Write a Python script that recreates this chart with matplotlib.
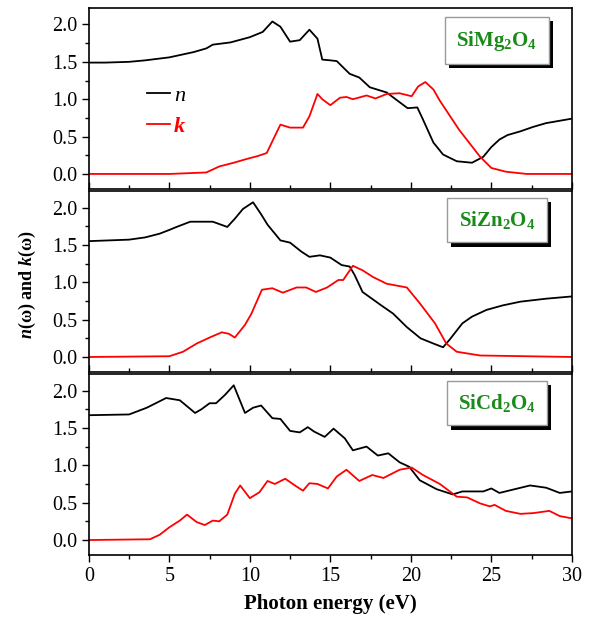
import numpy as np
import matplotlib.pyplot as plt
from matplotlib.ticker import MultipleLocator
import matplotlib.patheffects as pe

plt.rcParams['font.family'] = ['Liberation Serif', 'DejaVu Serif']
plt.rcParams['mathtext.fontset'] = 'custom'
plt.rcParams['mathtext.rm'] = 'Liberation Serif:bold'
plt.rcParams['mathtext.it'] = 'Liberation Serif:italic:bold'
plt.rcParams['mathtext.bf'] = 'Liberation Serif:bold'

# ---- SiMg2O4 ----
e_mg_n = [0, 1.0, 2.5, 3.5, 5.0, 6.5, 7.3, 7.7, 8.8, 10.0, 10.8, 11.1, 11.4, 11.9, 12.5, 13.1,
          13.7, 14.2, 14.5, 15.0, 15.4, 16.2, 16.8, 17.45, 18.5, 19.3, 19.8, 20.4, 20.75,
          21.4, 22.0, 22.85, 23.8, 24.5, 25.0, 25.5, 26.0, 26.8, 27.6, 28.4, 29.2, 30]
mg_n = [1.49, 1.49, 1.50, 1.52, 1.56, 1.63, 1.68, 1.73, 1.76, 1.83, 1.90, 1.97, 2.04, 1.97, 1.77, 1.79,
        1.93, 1.81, 1.53, 1.52, 1.51, 1.34, 1.29, 1.16, 1.09, 0.96, 0.88, 0.89, 0.73,
        0.42, 0.26, 0.17, 0.15, 0.23, 0.36, 0.46, 0.52, 0.57, 0.63, 0.68, 0.71, 0.74]
e_mg_k = [0, 5.0, 7.3, 8.1, 9.0, 9.8, 10.5, 11.05, 11.45, 11.9, 12.5, 13.3, 13.7, 14.2, 14.5,
          15.0, 15.6, 16.0, 16.4, 17.25, 17.8, 18.5, 19.3, 20.05, 20.45, 20.9, 21.4, 21.8,
          23.0, 24.3, 25.0, 25.9, 27.2, 30]
mg_k = [0, 0, 0.02, 0.10, 0.15, 0.20, 0.24, 0.28, 0.46, 0.66, 0.62, 0.62, 0.77, 1.07, 1.00,
        0.92, 1.02, 1.03, 1.00, 1.05, 1.01, 1.07, 1.08, 1.04, 1.17, 1.23, 1.13, 0.98,
        0.59, 0.23, 0.08, 0.03, 0.0, 0.0]

# ---- SiZn2O4 ----
e_zn_n = [0, 2.5, 3.5, 4.4, 5.0, 5.45, 6.3, 7.7, 8.6, 9.07, 9.57, 10.2, 10.7, 11.1, 11.9, 12.5, 13.2,
          13.7, 14.35, 15.0, 15.7, 16.2, 16.5, 17.0, 18.1, 18.9, 19.75, 20.6, 21.4, 22.0,
          22.4, 23.2, 23.8, 24.7, 25.7, 26.8, 28.4, 30]
zn_n = [1.55, 1.57, 1.60, 1.65, 1.70, 1.74, 1.81, 1.81, 1.74, 1.85, 1.98, 2.07, 1.91, 1.77, 1.56, 1.53, 1.41,
        1.34, 1.36, 1.33, 1.23, 1.21, 1.10, 0.87, 0.70, 0.58, 0.40, 0.25, 0.18, 0.13,
        0.23, 0.45, 0.54, 0.63, 0.69, 0.74, 0.78, 0.81]
e_zn_k = [0, 5.0, 5.85, 6.7, 7.5, 8.26, 8.7, 9.07, 9.7, 10.1, 10.75, 11.4, 12.05, 12.9, 13.5,
          14.1, 14.8, 15.5, 15.8, 16.4, 17.0, 17.65, 18.5, 19.75, 20.55, 21.5, 22.2, 22.85,
          24.3, 30]
zn_k = [0, 0.01, 0.07, 0.18, 0.26, 0.33, 0.31, 0.26, 0.43, 0.58, 0.90, 0.92, 0.86, 0.93, 0.93,
        0.87, 0.93, 1.03, 1.03, 1.22, 1.16, 1.07, 0.98, 0.93, 0.72, 0.45, 0.18, 0.07,
        0.02, 0.0]

# ---- SiCd2O4 ----
e_cd_n = [0, 2.5, 3.6, 4.8, 5.65, 6.1, 6.6, 7.0, 7.5, 7.9, 8.45, 9.0, 9.7, 10.2, 10.7, 11.4,
          11.9, 12.5, 13.1, 13.6, 14.0, 14.65, 15.2, 15.9, 16.4, 17.25, 17.95, 18.6, 19.3,
          19.9, 20.55, 21.6, 22.6, 23.2, 24.5, 25.0, 25.5, 27.4, 28.4, 29.25, 30]
cd_n = [1.67, 1.68, 1.77, 1.90, 1.87, 1.79, 1.70, 1.75, 1.83, 1.83, 1.94, 2.07, 1.70, 1.77, 1.80, 1.63,
        1.62, 1.46, 1.44, 1.51, 1.45, 1.38, 1.49, 1.36, 1.20, 1.25, 1.13, 1.16, 1.04,
        0.98, 0.80, 0.68, 0.61, 0.65, 0.65, 0.69, 0.63, 0.73, 0.70, 0.63, 0.65]
e_cd_k = [0, 3.8, 4.4, 5.0, 5.65, 6.1, 6.7, 7.2, 7.7, 8.1, 8.6, 9.07, 9.4, 10.0, 10.6, 11.1,
          11.55, 12.2, 12.8, 13.3, 13.7, 14.2, 14.85, 15.4, 16.0, 16.8, 17.6, 18.3, 19.3,
          20.05, 20.75, 21.8, 22.85, 23.5, 24.3, 24.9, 25.2, 25.9, 26.8, 27.6, 28.6, 29.25, 30]
cd_k = [0, 0.01, 0.07, 0.17, 0.26, 0.34, 0.24, 0.20, 0.26, 0.25, 0.34, 0.62, 0.73, 0.56, 0.64, 0.79,
        0.75, 0.82, 0.73, 0.66, 0.76, 0.75, 0.69, 0.85, 0.94, 0.79, 0.87, 0.83, 0.94,
        0.97, 0.87, 0.75, 0.58, 0.57, 0.49, 0.45, 0.47, 0.39, 0.35, 0.36, 0.39, 0.32, 0.29]

panels = [
    (r'SiMg$_2$O$_4$', e_mg_n, mg_n, e_mg_k, mg_k),
    (r'SiZn$_2$O$_4$', e_zn_n, zn_n, e_zn_k, zn_k),
    (r'SiCd$_2$O$_4$', e_cd_n, cd_n, e_cd_k, cd_k),
]

fig, axes = plt.subplots(3, 1, figsize=(5.92, 6.18), dpi=100, sharex=True)
fig.subplots_adjust(left=0.150, right=0.966, top=0.987, bottom=0.102, hspace=0.012)

for i, (ax, (name, en, n, ek, k)) in enumerate(zip(axes, panels)):
    ln_n, = ax.plot(en, n, color='black', lw=1.3, label='n')
    ln_k, = ax.plot(ek, k, color='red', lw=1.3, label='k')
    ax.set_xlim(0, 30)
    ax.set_ylim(-0.2, 2.22)
    ax.xaxis.set_major_locator(MultipleLocator(5))
    ax.xaxis.set_minor_locator(MultipleLocator(2.5))
    ax.yaxis.set_major_locator(MultipleLocator(0.5))
    ax.yaxis.set_minor_locator(MultipleLocator(0.25))
    ax.tick_params(axis='y', which='major', direction='out', length=5, width=1, labelsize=14.5)
    ax.tick_params(axis='y', which='minor', direction='out', length=3, width=1)
    xdir = 'out' if i == 2 else 'in'
    ax.tick_params(axis='x', which='major', direction=xdir, length=5, width=1, labelsize=14.5)
    ax.tick_params(axis='x', which='minor', direction=xdir, length=3, width=1)
    for s in ax.spines.values():
        s.set_linewidth(1.2)

    t = ax.text(0.845, 0.82 if i == 0 else 0.84, name, transform=ax.transAxes,
                ha='center', va='center', fontsize=15, fontweight='bold', color='#1a8a1a',
                bbox=dict(boxstyle='square,pad=0.55', fc='white', ec='#999999', lw=1))
    t.get_bbox_patch().set_path_effects([
        pe.SimplePatchShadow(offset=(3, -3), shadow_rgbFace='black', alpha=1.0),
        pe.Normal()])

    if i == 0:
        leg = ax.legend(handles=[ln_n, ln_k], loc='center left', bbox_to_anchor=(0.08, 0.43),
                        frameon=False, handlelength=1.0, handletextpad=0.2,
                        labelspacing=0.5, fontsize=16)
        leg.get_texts()[0].set_fontstyle('italic')
        leg.get_texts()[1].set_fontstyle('italic')
        leg.get_texts()[1].set_fontweight('bold')
        leg.get_texts()[1].set_color('red')

axes[2].set_xlabel('Photon energy (eV)', fontsize=15, fontweight='bold', labelpad=6)
fig.text(0.046, 0.54, r'$n$(ω) and $k$(ω)', rotation=90, ha='center', va='center',
         fontsize=13, fontweight='bold')

fig.savefig('out.png', dpi=100)
